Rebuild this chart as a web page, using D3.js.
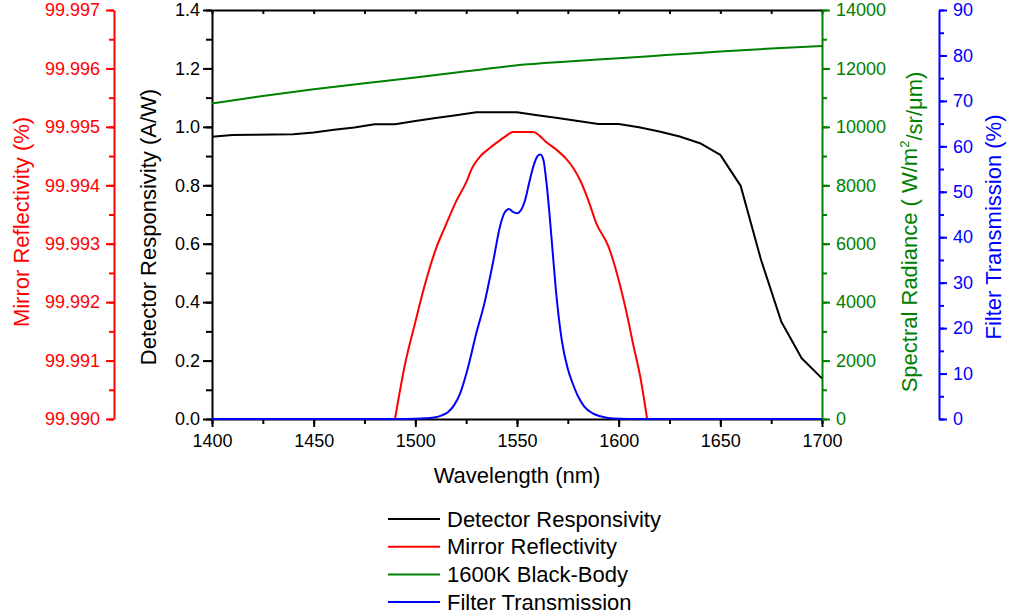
<!DOCTYPE html>
<html>
<head>
<meta charset="utf-8">
<script src="https://cdn.jsdelivr.net/npm/d3@7"></script>
<style>
  body { margin: 0; background: #fff; }
  svg { font-family: "Liberation Sans", Arial, sans-serif; }
  .axis path, .axis line { stroke-width: 2; }
  .axis text { font-size: 18px; }
  .title { font-size: 22px; }
</style>
</head>
<body>
<div class="chart"></div>
<script>
// Wavelength / responsivity / reflectivity / black-body / filter chart

// Detector responsivity (A/W)
var detWl = [1400, 1410, 1420, 1430, 1440, 1450, 1460, 1470, 1480, 1490, 1500, 1510, 1520, 1530, 1540, 1550,
             1560, 1570, 1580, 1590, 1600, 1610, 1620, 1630, 1640, 1650, 1660, 1670, 1680, 1690, 1700];
var detResp = [0.966, 0.972, 0.973, 0.974, 0.975, 0.981, 0.990, 0.998, 1.009, 1.009, 1.020, 1.030, 1.040, 1.050, 1.050, 1.050,
               1.040, 1.030, 1.020, 1.010, 1.010, 0.999, 0.984, 0.967, 0.944, 0.904, 0.798, 0.545, 0.333, 0.208, 0.139];

// Mirror reflectivity (%)
var mirWl = [1490, 1495, 1500, 1504, 1510, 1515, 1520, 1525, 1528, 1532, 1536, 1540, 1544, 1548, 1558,
             1561, 1564, 1569, 1574, 1578, 1581, 1585, 1589, 1595, 1600, 1604, 1607, 1611, 1614];
var mirRefl = [99.99000, 99.99095, 99.99166, 99.99221, 99.99290, 99.99332, 99.99372, 99.99405, 99.99430, 99.99450,
               99.99462, 99.99473, 99.99483, 99.99491, 99.99491, 99.99485, 99.99475, 99.99462, 99.99446, 99.99428,
               99.99409, 99.99375, 99.99335, 99.99295, 99.99238, 99.99180, 99.99130, 99.99065, 99.99000];

// 1600K black-body spectral radiance
var bbWl = [1400, 1425, 1450, 1475, 1500, 1525, 1550, 1575, 1600, 1625, 1650, 1675, 1700];
var bbRad = [10800, 11060, 11290, 11490, 11690, 11900, 12110, 12240, 12350, 12465, 12580, 12680, 12770];

// Filter transmission (%)
var filtWl = [1400, 1450, 1490, 1500, 1505, 1510, 1513, 1516, 1519, 1522, 1526, 1530, 1534, 1538, 1542, 1544, 1546,
              1548, 1550, 1552, 1554, 1556, 1558, 1560, 1561.5, 1563, 1564.5, 1566, 1567.5, 1569, 1572, 1575, 1577,
              1580, 1583, 1587, 1591, 1597, 1605, 1650, 1700];
var filtTrans = [0, 0, 0, 0.05, 0.15, 0.4, 0.8, 1.5, 3, 5.6, 11.5, 18.9, 25.5, 34, 43, 45.5, 46.2,
                 45.6, 45.3, 46, 48.2, 52, 55.5, 57.8, 58.2, 57, 52, 45, 37, 29, 17.4, 11, 8.3,
                 5, 2.8, 1.3, 0.6, 0.1, 0, 0, 0];

var legendNames = ["Detector Responsivity", "Mirror Reflectivity", "1600K Black-Body", "Filter Transmission"];
var legendColors = ["black", "red", "green", "blue"];

var svgWidth = 1009;
var svgHeight = 616;

var plot = { left: 212, right: 822, top: 10, bottom: 419 };

var svg = d3.select(".chart")
    .append("svg")
    .attr("width", svgWidth)
    .attr("height", svgHeight);

// Scales
var x = d3.scaleLinear().domain([1400, 1700]).range([plot.left, plot.right]);
var yDet = d3.scaleLinear().domain([0, 1.4]).range([plot.bottom, plot.top]);
var yMir = d3.scaleLinear().domain([99.990, 99.997]).range([plot.bottom, plot.top]);
var yBB = d3.scaleLinear().domain([0, 14000]).range([plot.bottom, plot.top]);
var yFilt = d3.scaleLinear().domain([0, 90]).range([plot.bottom, plot.top]);

// helper: major + minor ticks for one axis
function drawAxis(axisFn, scale, pos, major, minor, fmt, color, size, pad) {
    var g = svg.append("g").attr("class", "axis").attr("transform", pos);
    g.call(axisFn(scale).tickValues(minor).tickFormat("").tickSizeInner(size - 3).tickSizeOuter(0));
    g.call(function(sel) {
        var gm = sel.append("g");
        gm.call(axisFn(scale).tickValues(major).tickFormat(fmt).tickSizeInner(size).tickSizeOuter(0).tickPadding(pad));
        gm.select(".domain").remove();
    });
    g.selectAll("path, line").attr("stroke", color);
    g.selectAll("text").attr("fill", color).style("font-size", "18px");
    return g;
}

// bottom axis
drawAxis(d3.axisBottom, x, `translate(0,${plot.bottom})`,
    d3.range(1400, 1701, 50), d3.range(1400, 1701, 25), d3.format("d"), "black", 8, 7);

// top border with inward ticks
svg.append("g").attr("class", "axis")
    .attr("transform", `translate(0,${plot.top})`)
    .call(d3.axisBottom(x).tickValues(d3.range(1400, 1701, 25)).tickFormat("").tickSizeInner(4).tickSizeOuter(0))
    .selectAll("path, line").attr("stroke", "black");

// left detector axis
drawAxis(d3.axisLeft, yDet, `translate(${plot.left},0)`,
    d3.range(0, 1.41, 0.2), d3.range(0, 1.41, 0.1), d3.format(".1f"), "black", 9, 3);

// red mirror axis
drawAxis(d3.axisLeft, yMir, "translate(114,0)",
    d3.range(0, 8).map(i => 99.990 + i * 0.001), d3.range(0, 15).map(i => 99.990 + i * 0.0005),
    d3.format(".3f"), "red", 8, 6);

// green black-body axis
drawAxis(d3.axisRight, yBB, `translate(${plot.right},0)`,
    d3.range(0, 14001, 2000), d3.range(0, 14001, 1000), d3.format("d"), "green", 8, 6);

// blue filter axis
drawAxis(d3.axisRight, yFilt, "translate(939,0)",
    d3.range(0, 91, 10), d3.range(0, 91, 5), d3.format("d"), "blue", 8, 6);

// Axis titles
svg.append("text").attr("class", "title")
    .attr("transform", "translate(29,222) rotate(-90)")
    .attr("text-anchor", "middle").attr("fill", "red")
    .text("Mirror Reflectivity (%)");

svg.append("text").attr("class", "title")
    .attr("transform", "translate(156,227) rotate(-90)")
    .attr("text-anchor", "middle").attr("fill", "black")
    .text("Detector Responsivity (A/W)");

var gTitle = svg.append("text").attr("class", "title")
    .attr("transform", "translate(917,232) rotate(-90)")
    .attr("text-anchor", "middle").attr("fill", "green");
gTitle.append("tspan").text("Spectral Radiance ( W/m");
gTitle.append("tspan").attr("dy", "-0.6em").style("font-size", "13px").text("2");
gTitle.append("tspan").attr("dy", "0.6em").text("/sr/\u03bcm)");

svg.append("text").attr("class", "title")
    .attr("transform", "translate(1001,227) rotate(-90)")
    .attr("text-anchor", "middle").attr("fill", "blue")
    .text("Filter Transmission (%)");

svg.append("text").attr("class", "title")
    .attr("x", 517).attr("y", 483)
    .attr("text-anchor", "middle")
    .text("Wavelength (nm)");

// Lines
function drawLine(xs, ys, yScale, color, curve) {
    var pts = xs.map((d, i) => [d, ys[i]]);
    var line = d3.line()
        .x(d => x(d[0]))
        .y(d => yScale(d[1]))
        .curve(curve || d3.curveLinear);
    svg.append("path")
        .datum(pts)
        .attr("d", line)
        .attr("fill", "none")
        .attr("stroke", color)
        .attr("stroke-width", 2)
        .attr("stroke-linejoin", "round");
}

drawLine(detWl, detResp, yDet, "black");
drawLine(mirWl, mirRefl, yMir, "red", d3.curveMonotoneX);
drawLine(bbWl, bbRad, yBB, "green", d3.curveMonotoneX);
drawLine(filtWl, filtTrans, yFilt, "blue", d3.curveMonotoneX);

// Legend
var legend = svg.append("g");
legendNames.forEach(function(name, i) {
    var yy = 519 + i * 27.7;
    legend.append("line")
        .attr("x1", 388).attr("x2", 440)
        .attr("y1", yy).attr("y2", yy)
        .attr("stroke", legendColors[i]).attr("stroke-width", 2);
    legend.append("text")
        .attr("x", 447).attr("y", yy)
        .attr("dy", "0.35em")
        .style("font-size", "22px")
        .text(name);
});
</script>
</body>
</html>
